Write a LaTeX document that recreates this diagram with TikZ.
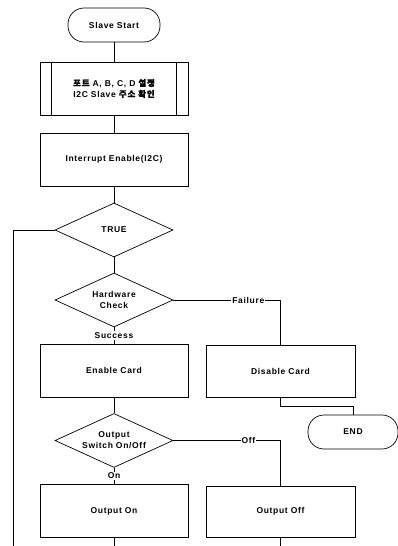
\documentclass[tikz,border=0pt]{standalone}
\usepackage{fontspec}
\setmainfont[LetterSpace=8]{Liberation Sans}
\newfontfamily\kr[FakeBold=1.5, LetterSpace=10]{Noto Sans CJK KR}
\usetikzlibrary{shapes.geometric}

\tikzset{
  flow/.style={draw, line width=0.7pt},
  proc/.style={flow, rectangle, minimum width=148pt, minimum height=53pt, align=center},
  pill/.style={flow, rectangle, rounded corners=16pt, minimum height=34pt, align=center},
  decide/.style={flow, diamond, aspect=2.2, inner sep=0pt, minimum width=118pt, minimum height=54pt, align=center},
  lbl/.style={fill=white, inner sep=1pt}
}

\begin{document}
\begin{tikzpicture}[x=1pt, y=-1pt, font=\fontsize{8.5}{11}\selectfont\bfseries, line width=0.7pt]
  \useasboundingbox (0,0) rectangle (397,546);

  % main column
  \node[pill, minimum width=92pt] (start) at (114,25) {Slave Start};
  \node[proc] (init) at (114,88.5) {{\kr 포트} A, B, C, D {\kr 설정}\\I2C Slave {\kr 주소 확인}};
  \draw ([xshift=12pt]init.north west) -- ([xshift=12pt]init.south west);
  \draw ([xshift=-12pt]init.north east) -- ([xshift=-12pt]init.south east);
  \node[proc] (intr) at (114,159.5) {Interrupt Enable(I2C)};
  \node[decide] (loop) at (114,230) {TRUE};
  \node[decide] (hw) at (114,300) {Hardware\\Check};
  \node[proc] (enable) at (114,370.5) {Enable Card};
  \node[decide] (sw) at (114,440.5) {Output\\Switch On/Off};
  \node[proc] (on) at (114,511) {Output On};

  % right column
  \node[proc, minimum width=149pt, minimum height=52pt] (disable) at (280.5,371) {Disable Card};
  \node[pill, minimum width=90pt] (end) at (353,432) {END};
  \node[proc, minimum width=149pt, minimum height=51pt] (off) at (280.5,511.5) {Output Off};

  % loose ends at the bottom edge
  \coordinate (back) at (13,546);
  \coordinate (onout) at (114,546);
  \coordinate (offout) at (280.5,546);

  % connectors
  \draw (start) -- (init);
  \draw (init) -- (intr);
  \draw (intr) -- (loop);
  \draw (loop) -- (hw);
  \draw (hw) -- node[lbl] {Success} (enable);
  \draw (enable) -- (sw);
  \draw (sw) -- node[lbl] {On} (on);
  \draw (hw.east) -- node[lbl, pos=0.7] {Failure} (hw.east -| disable.north) -- (disable.north);
  \draw (sw.east) -- node[lbl, pos=0.7] {Off} (sw.east -| off.north) -- (off.north);
  \draw (disable.south) -- ++(0,9) -| (end.north);
  \draw (loop.west) -| (back);
  \draw (on) -- (onout);
  \draw (off) -- (offout);
\end{tikzpicture}
\end{document}
